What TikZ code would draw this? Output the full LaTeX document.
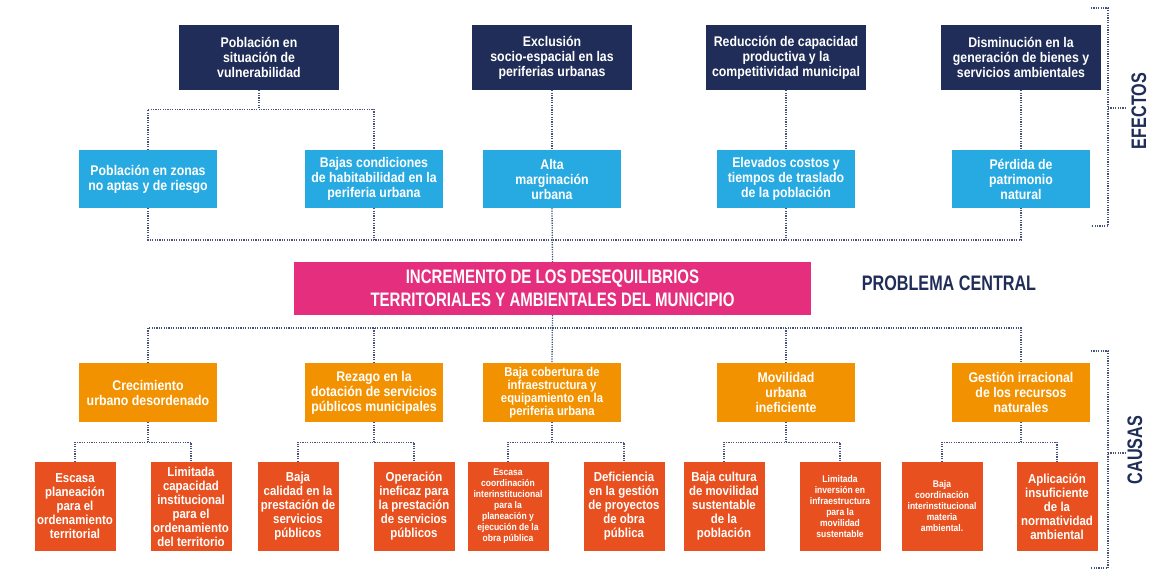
\documentclass[tikz,border=0pt]{standalone}
\usepackage{fontspec}
\setmainfont{Liberation Sans}[FakeStretch=0.88]
\newfontfamily\titulofont{Liberation Sans}[FakeStretch=0.77]
\usepackage{tikz}
\definecolor{azuloscuro}{HTML}{1F2D58}
\definecolor{azulclaro}{HTML}{27AAE1}
\definecolor{rosa}{HTML}{E52E7D}
\definecolor{naranja}{HTML}{F39200}
\definecolor{rojizo}{HTML}{E9501F}
\definecolor{punteado}{HTML}{46527A}
\tikzset{
	caja/.style={inner sep=0pt,align=center,text=white,font=\bfseries\fontsize{14}{15}\selectfont},
	efecto/.style={caja,fill=azuloscuro,minimum width=160pt,minimum height=65pt},
	subefecto/.style={caja,fill=azulclaro,minimum width=138pt,minimum height=58pt},
	causa/.style={caja,fill=naranja,minimum width=138pt,minimum height=59pt},
	subcausa/.style={caja,fill=rojizo,minimum width=81pt,minimum height=89pt,font=\bfseries\fontsize{13}{14}\selectfont},
	chica/.style={font=\bfseries\fontsize{9.7}{11}\selectfont},
	enlace/.style={punteado,line width=1.3pt,dash pattern=on 1.2pt off 1.2pt},
	titulo/.style={text=azuloscuro,font=\titulofont\bfseries\fontsize{21}{24}\selectfont}
}
\begin{document}
\begin{tikzpicture}[x=1pt,y=-1pt]
			\useasboundingbox (0,0) rectangle (1174,579);
			\node[efecto] (d1) at (259,57.5) {Población en\\situación de\\vulnerabilidad};
			\node[efecto] (d2) at (552,57.5) {Exclusión\\socio-espacial en las\\periferias urbanas};
			\node[efecto] (d3) at (786,57.5) {Reducción de capacidad\\productiva y la\\competitividad municipal};
			\node[efecto] (d4) at (1021,57.5) {Disminución en la\\generación de bienes y\\servicios ambientales};
			\node[subefecto] (l1) at (148,179) {Población en zonas\\no aptas y de riesgo};
			\node[subefecto] (l2) at (374,179) {Bajas condiciones\\de habitabilidad en la\\periferia urbana};
			\node[subefecto] (l3) at (552,179) {Alta\\marginación\\urbana};
			\node[subefecto] (l4) at (786,179) {Elevados costos y\\tiempos de traslado\\de la población};
			\node[subefecto] (l5) at (1021,179) {Pérdida de\\patrimonio\\natural};
			\node[caja,fill=rosa,minimum width=517pt,minimum height=53pt,font=\titulofont\bfseries\fontsize{19.5}{23}\selectfont] (pc) at (552.5,288.5) {INCREMENTO DE LOS DESEQUILIBRIOS\\TERRITORIALES Y AMBIENTALES DEL MUNICIPIO};
			\node[titulo] (problema) at (949,283) {PROBLEMA CENTRAL};
			\node[causa] (o1) at (148,392.5) {Crecimiento\\urbano desordenado};
			\node[causa] (o2) at (374,392.5) {Rezago en la\\dotación de servicios\\públicos municipales};
			\node[causa,font=\bfseries\fontsize{12.8}{13}\selectfont] (o3) at (552,392.5) {Baja cobertura de\\infraestructura y\\equipamiento en la\\periferia urbana};
			\node[causa] (o4) at (786,392.5) {Movilidad\\urbana\\ineficiente};
			\node[causa] (o5) at (1021,392.5) {Gestión irracional\\de los recursos\\naturales};
			\node[subcausa] (r1) at (75,506.5) {Escasa\\planeación\\para el\\ordenamiento\\territorial};
			\node[subcausa] (r2) at (191,506.5) {Limitada\\capacidad\\institucional\\para el\\ordenamiento\\del territorio};
			\node[subcausa] (r3) at (298,506.5) {Baja\\calidad en la\\prestación de\\servicios\\públicos};
			\node[subcausa] (r4) at (414,506.5) {Operación\\ineficaz para\\la prestación\\de servicios\\públicos};
			\node[subcausa,chica] (r5) at (508,506.5) {Escasa\\coordinación\\interinstitucional\\para la\\planeación y\\ejecución de la\\obra pública};
			\node[subcausa] (r6) at (624,506.5) {Deficiencia\\en la gestión\\de proyectos\\de obra\\pública};
			\node[subcausa] (r7) at (724,506.5) {Baja cultura\\de movilidad\\sustentable\\de la\\población};
			\node[subcausa,chica] (r8) at (840,506.5) {Limitada\\inversión en\\infraestructura\\para la\\movilidad\\sustentable};
			\node[subcausa,chica] (r9) at (942,506.5) {Baja\\coordinación\\interinstitucional\\materia\\ambiental.};
			\node[subcausa] (r10) at (1057,506.5) {Aplicación\\insuficiente\\de la\\normatividad\\ambiental};
			\draw[enlace] (d1.south) -- ++(0,19) coordinate (e1);
			\draw[enlace] (l1.north) |- (e1) -| (l2.north);
			\draw[enlace] (d2.south) -- (l3.north);
			\draw[enlace] (d3.south) -- (l4.north);
			\draw[enlace] (d4.south) -- (l5.north);
			\coordinate (e2) at (552,240);
			\draw[enlace] (l1.south) |- (e2) -| (l5.south);
			\draw[enlace] (l2.south) -- (l2.south |- e2);
			\draw[enlace] (l4.south) -- (l4.south |- e2);
			\draw[enlace] (l3.south) -- (pc.north);
			\coordinate (c0) at (552,328);
			\draw[enlace] (o1.north) |- (c0) -| (o5.north);
			\draw[enlace] (o2.north) -- (o2.north |- c0);
			\draw[enlace] (o4.north) -- (o4.north |- c0);
			\draw[enlace] (pc.south) -- (o3.north);
			\draw[enlace] (o1.south) -- ++(0,20) coordinate (k1);
			\draw[enlace] (r1.north) |- (k1) -| (r2.north);
			\draw[enlace] (o2.south) -- ++(0,20) coordinate (k2);
			\draw[enlace] (r3.north) |- (k2) -| (r4.north);
			\draw[enlace] (o3.south) -- ++(0,20) coordinate (k3);
			\draw[enlace] (r5.north) |- (k3) -| (r6.north);
			\draw[enlace] (o4.south) -- ++(0,20) coordinate (k4);
			\draw[enlace] (r7.north) |- (k4) -| (r8.north);
			\draw[enlace] (o5.south) -- ++(0,20) coordinate (k5);
			\draw[enlace] (r9.north) |- (k5) -| (r10.north);
			\draw[enlace] (1091,8) -| (1108,226) -- (1091,226) (1108,108) -- (1126,108);
			\node[titulo,rotate=90] (efectos) at (1139,111) {EFECTOS};
			\draw[enlace] (1091,351) -| (1108,568) -- (1091,568) (1108,453) -- (1125,453);
			\node[titulo,rotate=90] (causas) at (1135,450) {CAUSAS};
		\end{tikzpicture}
\end{document}
